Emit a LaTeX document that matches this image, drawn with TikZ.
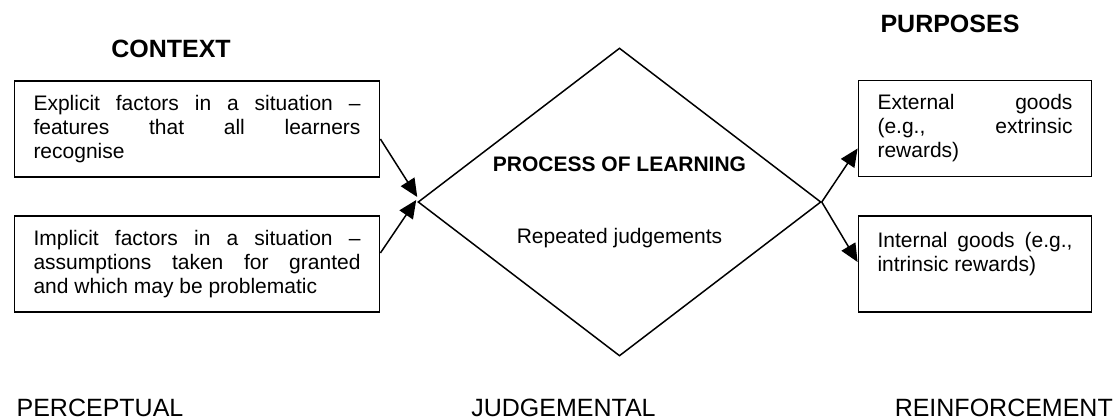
\documentclass[tikz,border=0pt]{standalone}
\usepackage{fontspec}
\setmainfont{Liberation Sans}
\usetikzlibrary{calc,arrows.meta,shapes.geometric}
\tikzset{
  box/.style={draw, line width=1.8pt, inner xsep=19pt, inner ysep=0pt, minimum height=96pt,
    align=justify, font=\fontsize{21}{24}\selectfont},
  proc/.style={draw, diamond, line width=1.5pt, inner sep=0pt, aspect=1.31,
    minimum width=403pt, minimum height=308pt, align=center, font=\fontsize{21}{24}\selectfont},
  ttl/.style={inner sep=0pt, font=\fontsize{25}{30}\selectfont\bfseries},
  stage/.style={inner sep=0pt, font=\fontsize{25}{30}\selectfont},
  arr/.style={line width=1.5pt, -{Triangle[length=18pt,width=16pt]}}
}
\begin{document}
\begin{tikzpicture}[x=1pt, y=-1pt]
\useasboundingbox (0,0) rectangle (1116,420);
% headings
\node[ttl] (ctx) at (171,49) {CONTEXT};
\node[ttl] (purp) at (950,24) {PURPOSES};
% context boxes
\node[box, text width=327pt] (expl) at (197,129) {Explicit factors in a situation –\linebreak features that all learners\linebreak recognise};
\node[box, text width=327pt] (impl) at (197,264) {Implicit factors in a situation –\linebreak assumptions taken for granted\linebreak and which may be problematic};
% process
\node[proc] (learn) at (619.5,202) {\textbf{PROCESS OF LEARNING}\\[48pt]Repeated judgements};
% purpose boxes
\node[box, text width=195pt] (ext) at (975,128.5) {External goods\linebreak (e.g., extrinsic\linebreak rewards)};
\node[box, text width=195pt] (int) at (975,264) {Internal goods (e.g.,\linebreak intrinsic rewards)\\ \mbox{}};
% arrows
\draw[arr] ($(expl.east)+(0,10)$) -- ($(learn.west)+(0,-5)$);
\draw[arr] ($(impl.east)+(0,-11)$) -- ($(learn.west)+(-1,-2)$);
\draw[arr] (learn.east) -- ($(ext.west)+(0,20)$);
\draw[arr] (learn.east) -- ($(int.west)+(0,-2)$);
% stages
\node[stage] (perc) at (100,408) {PERCEPTUAL};
\node[stage] (judg) at (563.5,408) {JUDGEMENTAL};
\node[stage, anchor=east] (reinf) at (1113,408) {REINFORCEMENT};
\end{tikzpicture}
\end{document}
